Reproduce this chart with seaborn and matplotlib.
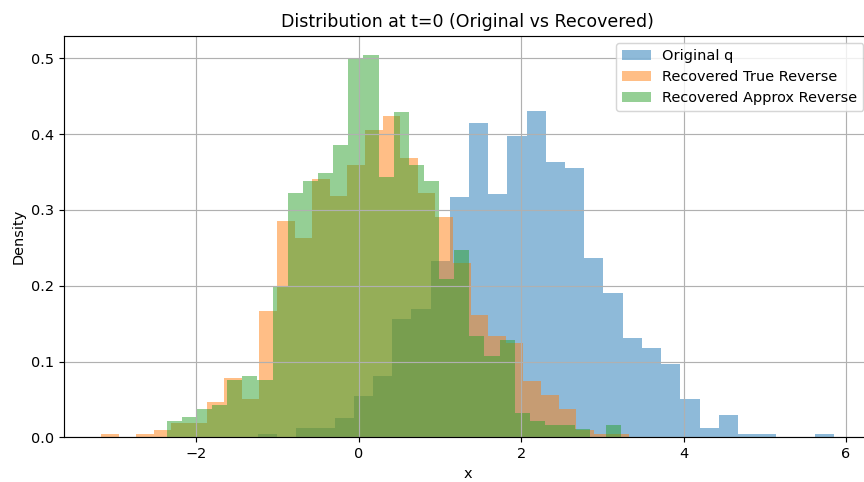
import numpy as np
import pandas as pd
import matplotlib
matplotlib.use("Agg")
import matplotlib.pyplot as plt
import seaborn as sns

# ---- data (bin counts out of 1000 samples, 30 bins each) ----
labels = ["Original q", "Recovered True Reverse", "Recovered Approx Reverse"]

orig_range = (-1.245, 5.852)
orig_counts = [1, 0, 3, 3, 6, 13, 19, 37, 40, 55,
               75, 98, 76, 94, 102, 86, 84, 56, 45, 31,
               28, 23, 12, 3, 7, 1, 1, 0, 0, 1]

true_range = (-3.175, 3.328)
true_counts = [1, 0, 1, 2, 4, 4, 10, 17, 11, 36,
               62, 57, 74, 69, 78, 88, 92, 80, 70, 63,
               50, 35, 29, 27, 16, 12, 8, 2, 1, 1]

approx_range = (-2.366, 3.225)
approx_counts = [4, 5, 7, 8, 14, 15, 14, 37, 60, 63,
                 65, 72, 93, 94, 64, 80, 67, 63, 39, 46,
                 25, 20, 24, 6, 4, 3, 3, 2, 0, 3]

colors = ["#1f77b4", "#ff7f0e", "#2ca02c"]

DPI = 104
fig = plt.figure(figsize=(865 / DPI, 482 / DPI), dpi=DPI)
ax = fig.add_axes([0.0744, 0.0927, 0.9321, 0.8326])

for rng, counts, lab, col in zip([orig_range, true_range, approx_range],
                                 [orig_counts, true_counts, approx_counts],
                                 labels, colors):
    n = len(counts)
    edges = np.linspace(rng[0], rng[1], n + 1)
    df = pd.DataFrame({"x": (edges[:-1] + edges[1:]) / 2, "w": counts})
    sns.histplot(data=df, x="x", weights="w", bins=n, binrange=rng,
                 stat="density", color=col, alpha=0.5, linewidth=0,
                 edgecolor="none", label=lab, ax=ax)

ax.set_title("Distribution at t=0 (Original vs Recovered)", fontsize=12)
ax.set_xlabel("x")
ax.set_ylabel("Density")
ax.grid(True)
ax.legend(loc="upper right")
ax.set_xlim(-3.626, 6.303)

fig.savefig("out.png", dpi=DPI)
